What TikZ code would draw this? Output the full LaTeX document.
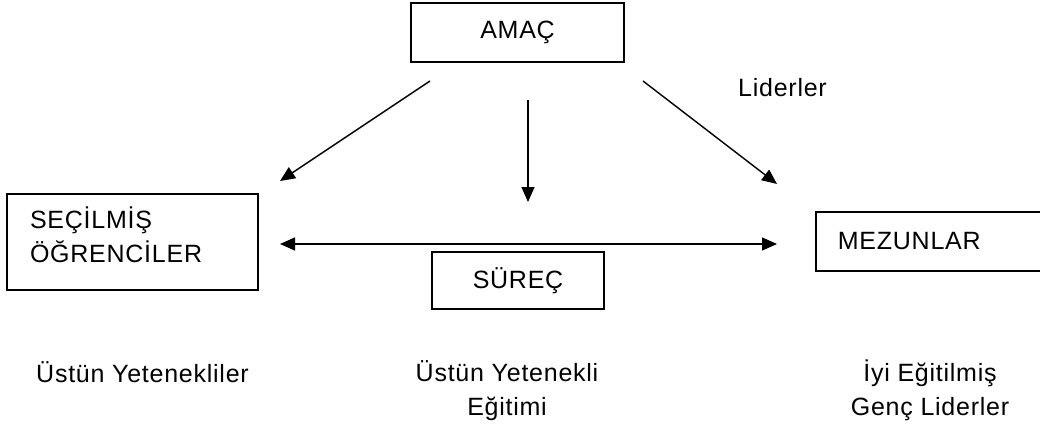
\documentclass[tikz,border=0pt]{standalone}
\usepackage{fontspec}
\setmainfont{Liberation Sans}[LetterSpace=3.0]
\usetikzlibrary{arrows.meta}
\begin{document}
\begin{tikzpicture}[x=1pt,y=-1pt,
  box/.style={draw, line width=1.8pt, inner sep=0pt},
  tip/.tip={Triangle[length=15pt,width=13pt]},
  arr/.style={line width=1.4pt, -tip},
  arrboth/.style={line width=1.4pt, tip-tip},
  lbl/.style={font=\fontsize{25}{34}\selectfont}]
\useasboundingbox (0,0) rectangle (1040,425);
\fill[white] (0,0) rectangle (1040,425);
\clip (0,0) rectangle (1040,425);
% boxes
\node[box, lbl, minimum width=213pt, minimum height=59pt] (amac) at (517.5,32.5) {AMAÇ};
\node[box, lbl, minimum height=96pt, text width=205pt, inner xsep=23pt, align=left, text depth=49pt] (secilmis) at (132.5,242) {SEÇİLMİŞ\\ÖĞRENCİLER};
\node[box, lbl, anchor=west, minimum height=59pt, text width=201pt, inner xsep=22pt, align=left] (mezunlar) at (815,241.5) {MEZUNLAR};
\node[box, lbl, minimum width=172pt, minimum height=57pt] (surec) at (518,280.5) {SÜREÇ};
% labels
\node[lbl, anchor=base west, inner sep=0pt] (liderler) at (738,97) {Liderler};
\node[lbl, anchor=base, inner sep=0pt] (ust1) at (142.5,382) {Üstün Yetenekliler};
\node[lbl, anchor=base, inner sep=0pt, align=center] (ust2) at (507,415) {Üstün Yetenekli\\Eğitimi};
\node[lbl, anchor=base, inner sep=0pt, align=center] (iyi) at (930,415) {İyi Eğitilmiş\\Genç Liderler};
% arrow end points
\coordinate (a1s) at (430,81);
\coordinate (a1e) at (280,181);
\coordinate (a2s) at (528,100);
\coordinate (a2e) at (528,202);
\coordinate (a3s) at (643,81);
\coordinate (a3e) at (777,184);
\coordinate (h1) at (280,244);
\coordinate (h2) at (777,244);
\draw[arr] (a1s) -- (a1e);
\draw[arr] (a2s) -- (a2e);
\draw[arr] (a3s) -- (a3e);
\draw[arrboth] (h1) -- (h2);
\end{tikzpicture}
\end{document}
